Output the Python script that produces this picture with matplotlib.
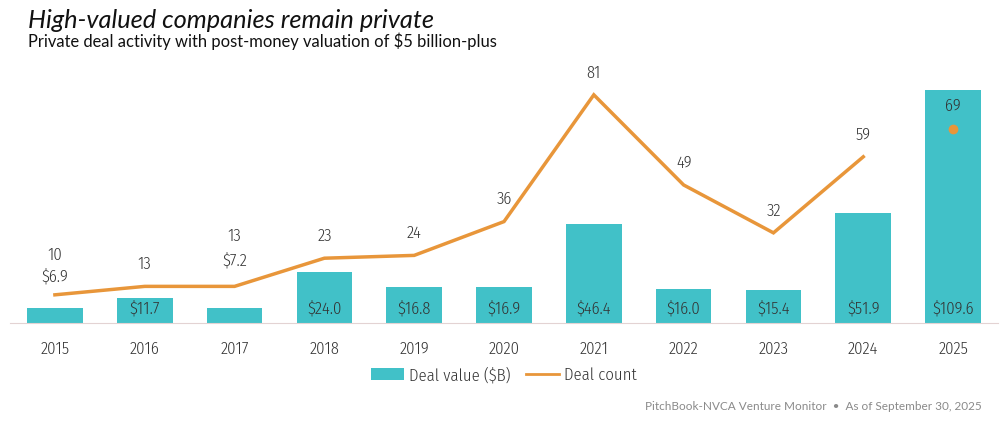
import matplotlib
matplotlib.use("Agg")
import matplotlib.pyplot as plt
from matplotlib.lines import Line2D
from matplotlib.patches import Patch

years = ["2015", "2016", "2017", "2018", "2019", "2020", "2021", "2022", "2023", "2024", "2025"]
deal_value = [6.9, 11.7, 7.2, 24.0, 16.8, 16.9, 46.4, 16.0, 15.4, 51.9, 109.6]
deal_count = [10, 13, 13, 23, 24, 36, 81, 49, 32, 59, 69]

TEAL = "#41C1C8"
ORANGE = "#E8963A"
TXT = "#333333"
NARROW = ["Fira Sans Condensed", "Lato", "DejaVu Sans"]
FONT = ["Lato", "DejaVu Sans"]
plt.rcParams["font.family"] = FONT
NW = 300
NS = 12

fig = plt.figure(figsize=(10, 4.21), dpi=100)
H = 421
ax_bottom = 323
ax_top = 80
ax = fig.add_axes([10/1000, 1 - ax_bottom/H, 988/1000, (ax_bottom - ax_top)/H])
ax2 = ax.twinx()

x = list(range(len(years)))
ax.bar(x, deal_value, width=0.62, color=TEAL, zorder=2)
ax.set_xlim(-0.5, 10.5)
ax.set_ylim(0, (ax_bottom - ax_top) / 2.126)
ax2.set_ylim(0, (ax_bottom - ax_top) / 2.817)

ax2.plot(x[:-1], deal_count[:-1], color=ORANGE, lw=2.5, zorder=3, solid_joinstyle="miter")
ax2.plot([x[-1]], [deal_count[-1]], "o", color=ORANGE, ms=6, zorder=3)

for a in (ax, ax2):
    for s in a.spines.values():
        s.set_visible(False)
    a.set_yticks([])
ax.spines["bottom"].set_visible(True)
ax.spines["bottom"].set_color("#E3D3D3")
ax.spines["bottom"].set_linewidth(0.8)
ax.set_xticks(x)
ax.set_xticklabels(years, fontsize=NS, color=TXT, family=NARROW, fontweight=NW)
ax.tick_params(axis="x", length=0, pad=13)
ax2.set_zorder(ax.get_zorder() + 1)
ax2.patch.set_visible(False)

PX = 0.72  # points per pixel at dpi 100
above_px = {0: 32, 2: 47}
for xi, v in zip(x, deal_value):
    lab = f"${v:.1f}"
    if xi in above_px:
        ax.annotate(lab, (xi, v), xytext=(0, above_px[xi] * PX), textcoords="offset points",
                    ha="center", va="center", fontsize=NS, color=TXT, family=NARROW, fontweight=NW)
    else:
        ax.annotate(lab, (xi, 0), xytext=(0, 14 * PX), textcoords="offset points",
                    ha="center", va="center", fontsize=NS, color=TXT, family=NARROW, fontweight=NW)

count_px = {0: 40, 2: 50}
for xi, c in zip(x, deal_count):
    off = count_px.get(xi, 22)
    ax2.annotate(str(c), (xi, c), xytext=(0, off * PX), textcoords="offset points",
                 ha="center", va="center", fontsize=NS, color=TXT, family=NARROW, fontweight=NW)

fig.text(28/1000, 1 - 28/H, "High-valued companies remain private", fontsize=18.3,
         style="italic", color="#111111", ha="left", va="baseline")
fig.text(28/1000, 1 - 47/H, "Private deal activity with post-money valuation of $5 billion-plus",
         fontsize=11.9, color="#111111", ha="left", va="baseline")

handles = [Patch(facecolor=TEAL, edgecolor="none"),
           Line2D([0], [0], color=ORANGE, lw=2)]
leg = fig.legend(handles, ["Deal value ($B)", "Deal count"], loc="center",
                 bbox_to_anchor=(0.504, 1 - 375/H), ncol=2, frameon=False,
                 prop={"family": NARROW, "size": NS, "weight": NW}, handlelength=2.0, handleheight=0.75,
                 handletextpad=0.3, columnspacing=0.9)
for t in leg.get_texts():
    t.set_color(TXT)

fig.text(982/1000, 1 - 407/H, "PitchBook-NVCA Venture Monitor  \u2022  As of September 30, 2025",
         fontsize=8.5, color="#8a8a8a", ha="right", va="center")

fig.savefig("out.png", dpi=100)
